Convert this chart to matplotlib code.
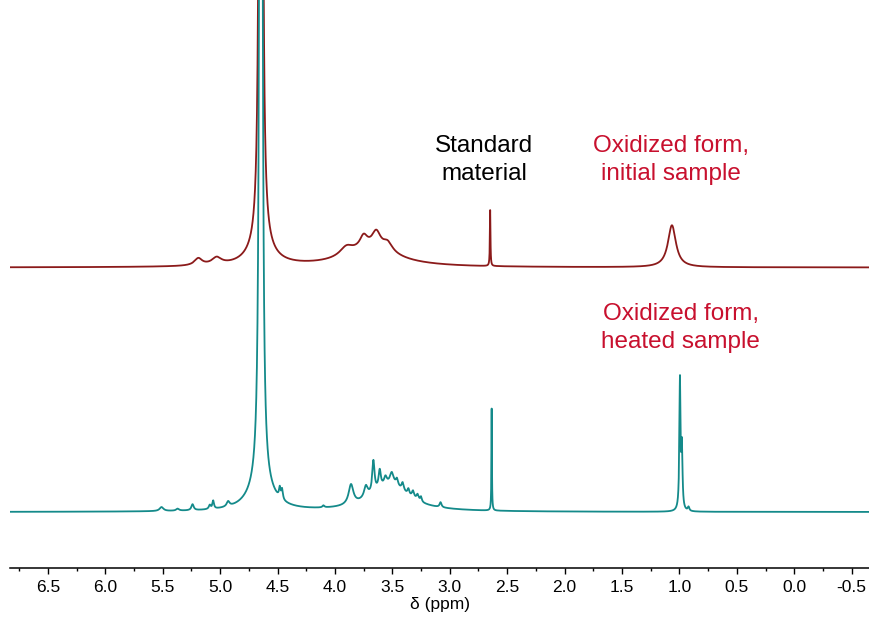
import numpy as np
import matplotlib.pyplot as plt

plt.rcParams['font.family'] = ['Liberation Sans', 'DejaVu Sans']

# peak lists: position (ppm), height (px above baseline), half width (ppm)
initial_ppm = [5.19, 5.03, 4.645, 4.645, 3.90, 3.75, 3.64, 3.54, 3.68, 2.648, 1.065]
initial_height = [7, 7, 8000, 18, 9, 12, 16, 9, 18, 56, 42]
initial_width = [0.04, 0.05, 0.0045, 0.12, 0.07, 0.04, 0.045, 0.05, 0.28, 0.003, 0.042]

heated_ppm = [5.51, 5.37, 5.24, 5.09, 5.06, 4.93, 4.645, 4.645, 4.48, 4.46, 4.10,
              3.86, 3.73, 3.665, 3.61, 3.56, 3.505, 3.46, 3.41, 3.36, 3.32, 3.28,
              3.25, 3.08, 2.635, 0.995, 0.978, 0.92]
heated_height = [4, 2, 6, 4, 8, 5, 6000, 24, 10, 10, 2,
                 20, 12, 32, 18, 8, 12, 7, 8, 6, 7, 6,
                 5, 5, 102, 130, 60, 4]
heated_width = [0.02, 0.015, 0.012, 0.01, 0.008, 0.015, 0.005, 0.12, 0.008, 0.008, 0.01,
                0.025, 0.02, 0.012, 0.012, 0.015, 0.02, 0.012, 0.012, 0.01, 0.012, 0.012,
                0.008, 0.01, 0.0025, 0.006, 0.006, 0.008]
heated_broad = [3.52, 26, 0.2]

initial_offset = 300.5
heated_offset = 56

tick_values = np.arange(-0.5, 6.51, 0.5)


def spectrum(x, ppm, height, width):
    y = np.zeros_like(x)
    for p, h, w in zip(ppm, height, width):
        y += h * w**2 / ((x - p)**2 + w**2)
    return y


x = np.linspace(-0.7, 6.9, 30000)
y_init = spectrum(x, initial_ppm, initial_height, initial_width)
y_heat = spectrum(x, heated_ppm + [heated_broad[0]], heated_height + [heated_broad[1]],
                  heated_width + [heated_broad[2]])

fig = plt.figure(figsize=(8.7, 6.17), dpi=100)
ax = fig.add_axes([10 / 870, 1 - 568 / 617, 860 / 870, 568 / 617])

ax.plot(x, y_init + initial_offset, color='#8b1a1a', lw=1.3)
ax.plot(x, y_heat + heated_offset, color='#148a8a', lw=1.3)

ax.set_xlim(6.83, -0.66)
ax.set_ylim(0, 568)

ax.text(2.70, 408, 'Standard\nmaterial', ha='center', va='center', fontsize=17.5,
        color='black', linespacing=1.3)
ax.text(1.07, 408, 'Oxidized form,\ninitial sample', ha='center', va='center', fontsize=17.5,
        color='#c8102e', linespacing=1.3)
ax.text(0.99, 240, 'Oxidized form,\nheated sample', ha='center', va='center', fontsize=17.5,
        color='#c8102e', linespacing=1.3)

for s in ['left', 'right', 'top']:
    ax.spines[s].set_visible(False)
ax.spines['bottom'].set_linewidth(1.1)
ax.set_yticks([])
ax.set_xticks(tick_values)
ax.set_xticklabels([f'{v:.1f}' for v in tick_values])
ax.set_xticks(np.arange(-0.5, 6.76, 0.25), minor=True)
ax.tick_params(axis='x', which='major', direction='out', length=4, width=1, labelsize=12.5, pad=5)
ax.tick_params(axis='x', which='minor', direction='out', length=2.5, width=1)
ax.set_xlabel('δ (ppm)', fontsize=12.5, labelpad=1)

fig.savefig('out.png', dpi=100)
